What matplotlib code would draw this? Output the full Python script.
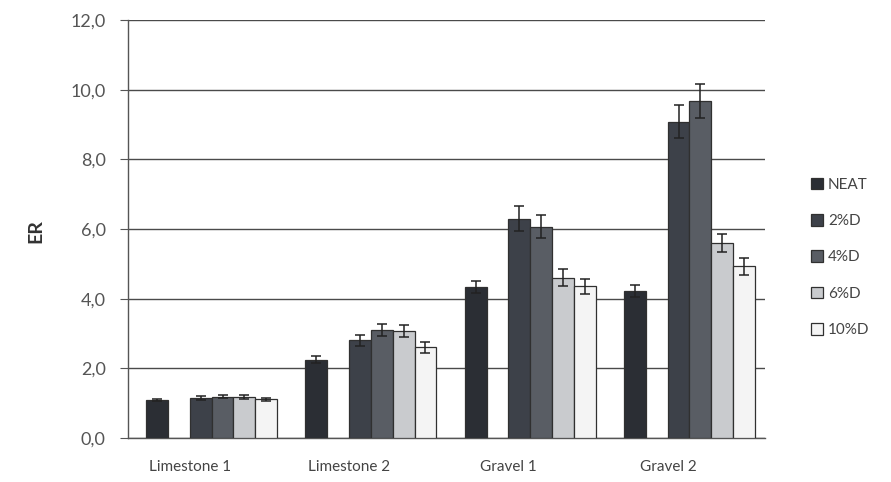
"""ER by aggregate type and additive dosage - bar chart with error bars."""

import numpy as np
import matplotlib
matplotlib.use("Agg")
import matplotlib.pyplot as plt
from matplotlib.patches import Patch

# Data
categories = ["Limestone 1", "Limestone 2", "Gravel 1", "Gravel 2"]
series = ["NEAT", "2%D", "4%D", "6%D", "10%D"]

neat = [1.10, 2.24, 4.33, 4.22]
d2 = [1.15, 2.80, 6.30, 9.08]
d4 = [1.19, 3.10, 6.07, 9.68]
d6 = [1.18, 3.07, 4.60, 5.60]
d10 = [1.11, 2.60, 4.35, 4.93]

neat_err = [0.03, 0.10, 0.18, 0.17]
d2_err = [0.05, 0.17, 0.35, 0.48]
d4_err = [0.04, 0.18, 0.33, 0.48]
d6_err = [0.05, 0.18, 0.25, 0.27]
d10_err = [0.04, 0.15, 0.22, 0.25]

values = [neat, d2, d4, d6, d10]
errors = [neat_err, d2_err, d4_err, d6_err, d10_err]

colors = ["#2b2e34", "#3d4149", "#595d64", "#c9cbce", "#f4f4f4"]
slots = [0, 2, 3, 4, 5]  # slot 1 is an empty gap after NEAT

plt.rcParams["font.family"] = ["Lato", "DejaVu Sans"]

fig = plt.figure(figsize=(8.91, 4.82), dpi=100)
ax = fig.add_axes([0.1437, 0.0913, 0.715, 0.8672])

x = np.arange(len(categories)) + 0.5
w = 0.137

for vals, errs, col, slot in zip(values, errors, colors, slots):
    pos = x + 0.025 + (slot - 2.5) * w
    ax.bar(pos, vals, width=w, color=col, edgecolor="#303030",
           linewidth=0.9, zorder=3)
    ax.errorbar(pos, vals, yerr=errs, fmt="none", ecolor="#222222",
                elinewidth=1.1, capsize=3.5, capthick=1.1, zorder=4)

ax.set_xlim(0, len(categories))
ax.set_ylim(0, 12)
ax.set_yticks(np.arange(0, 12.1, 2))
ax.set_yticklabels([f"{v:.1f}".replace(".", ",") for v in np.arange(0, 12.1, 2)],
                   fontsize=13, color="#555555")
ax.set_xticks(x - 0.11)
ax.set_xticklabels(categories, fontsize=11, color="#444444")
ax.tick_params(axis="x", length=0, pad=16)
ax.tick_params(axis="y", direction="out", length=6, color="#555555", pad=10)

ax.yaxis.grid(True, color="#4a4a4a", linewidth=1.0, zorder=0)
ax.set_axisbelow(True)
for s in ["top", "right"]:
    ax.spines[s].set_visible(False)
for s in ["left", "bottom"]:
    ax.spines[s].set_color("#555555")
    ax.spines[s].set_linewidth(1.0)

fig.text(0.04, 0.52, "ER", rotation=90, fontsize=14, fontweight="bold",
         color="#333333", ha="center", va="center")

handles = [Patch(facecolor=c, edgecolor="#303030", linewidth=0.9) for c in colors]
fig.legend(handles, series, loc="upper left", bbox_to_anchor=(0.895, 0.66),
           frameon=False, fontsize=11, handlelength=0.8, handleheight=0.8,
           handletextpad=0.3, labelspacing=1.45, labelcolor="#444444")

fig.savefig("out.png", dpi=100)
